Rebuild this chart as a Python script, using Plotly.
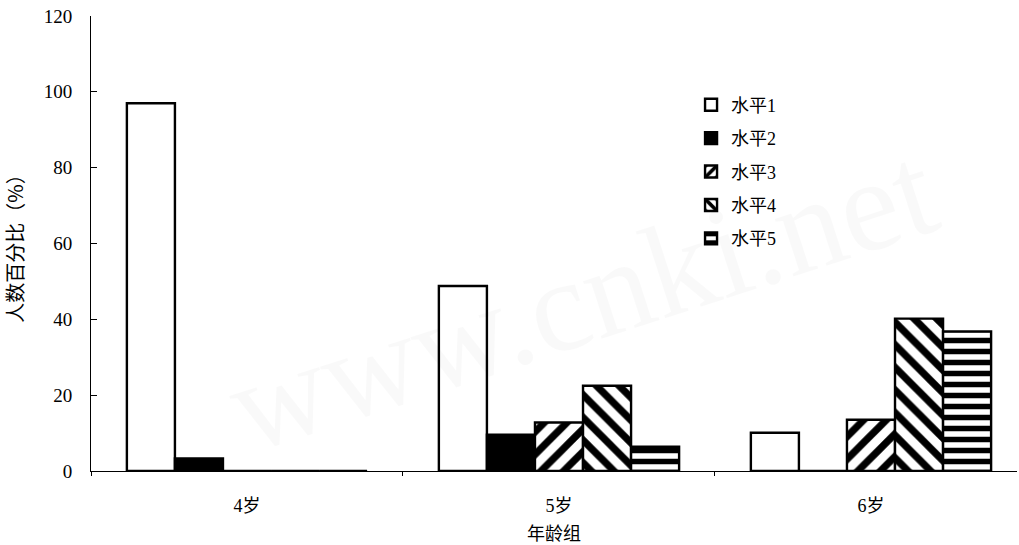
import plotly.graph_objects as go

# Age groups on the category axis
age_groups = ["4岁", "5岁", "6岁"]

# Percentage of children at each level, per age group
level_1 = [97.0, 48.8, 10.1]
level_2 = [3.3, 9.6, 0.0]
level_3 = [0.0, 12.8, 13.5]
level_4 = [0.0, 22.5, 40.2]
level_5 = [0.0, 6.4, 36.8]

level_names = ["水平1", "水平2", "水平3", "水平4", "水平5"]
y_ticks = [0, 20, 40, 60, 80, 100, 120]

series = [level_1, level_2, level_3, level_4, level_5]
stripe = dict(fgcolor="black", bgcolor="white", fgopacity=1)
patterns = [
    dict(shape=""),
    dict(shape=""),
    dict(shape="/", size=16, solidity=0.45, **stripe),
    dict(shape="\\", size=16, solidity=0.45, **stripe),
    dict(shape="-", size=11, solidity=0.5, **stripe),
]
fills = ["white", "black", "white", "white", "white"]

SERIF = "Liberation Serif, Noto Sans CJK SC, serif"
CJK = "Noto Sans CJK SC, sans-serif"

fig = go.Figure()
for name, vals, pat, fill in zip(level_names, series, patterns, fills):
    fig.add_trace(go.Bar(
        name=name,
        x=age_groups,
        y=vals,
        legendgroup=name,
        marker=dict(color=fill, line=dict(color="black", width=2.4), pattern=pat),
    ))

fig.update_layout(
    width=1019,
    height=545,
    margin=dict(l=91, r=2, t=16, b=74),
    plot_bgcolor="white",
    paper_bgcolor="white",
    barmode="group",
    bargap=0.23,
    bargroupgap=0,
    font=dict(family=SERIF, color="black", size=17),
    showlegend=True,
    legend=dict(
        x=0.648, y=0.845, xanchor="left", yanchor="top",
        font=dict(family=SERIF, size=18, color="black"),
        tracegroupgap=7,
        bgcolor="rgba(0,0,0,0)",
        itemwidth=30,
    ),
    annotations=[
        dict(
            text="www.cnki.net", x=0.53, y=0.38, xref="paper", yref="paper",
            showarrow=False, textangle=-18,
            font=dict(family="Liberation Serif, serif", size=132, color="rgba(0,0,0,0.022)"),
        )
    ],
)

fig.update_yaxes(
    range=[0, 120],
    tickvals=y_ticks,
    ticktext=[str(v) for v in y_ticks],
    ticks="inside",
    ticklen=6,
    tickcolor="black",
    showline=True,
    linecolor="black",
    linewidth=1,
    showgrid=False,
    zeroline=False,
    ticklabelstandoff=14,
    tickfont=dict(family=SERIF, size=19, color="black"),
    title=dict(text="人数百分比（%）", font=dict(family=CJK, size=20, color="black"), standoff=14),
)

fig.update_xaxes(
    range=[-0.5, 2.468],
    ticks="outside",
    tickson="boundaries",
    ticklen=4,
    tickcolor="black",
    showline=True,
    linecolor="black",
    linewidth=1,
    showgrid=False,
    ticklabelstandoff=18,
    tickfont=dict(family=SERIF, size=18, color="black"),
    title=dict(text="年龄组", font=dict(family=CJK, size=18, color="black"), standoff=14),
)

fig.write_html("out.html")
